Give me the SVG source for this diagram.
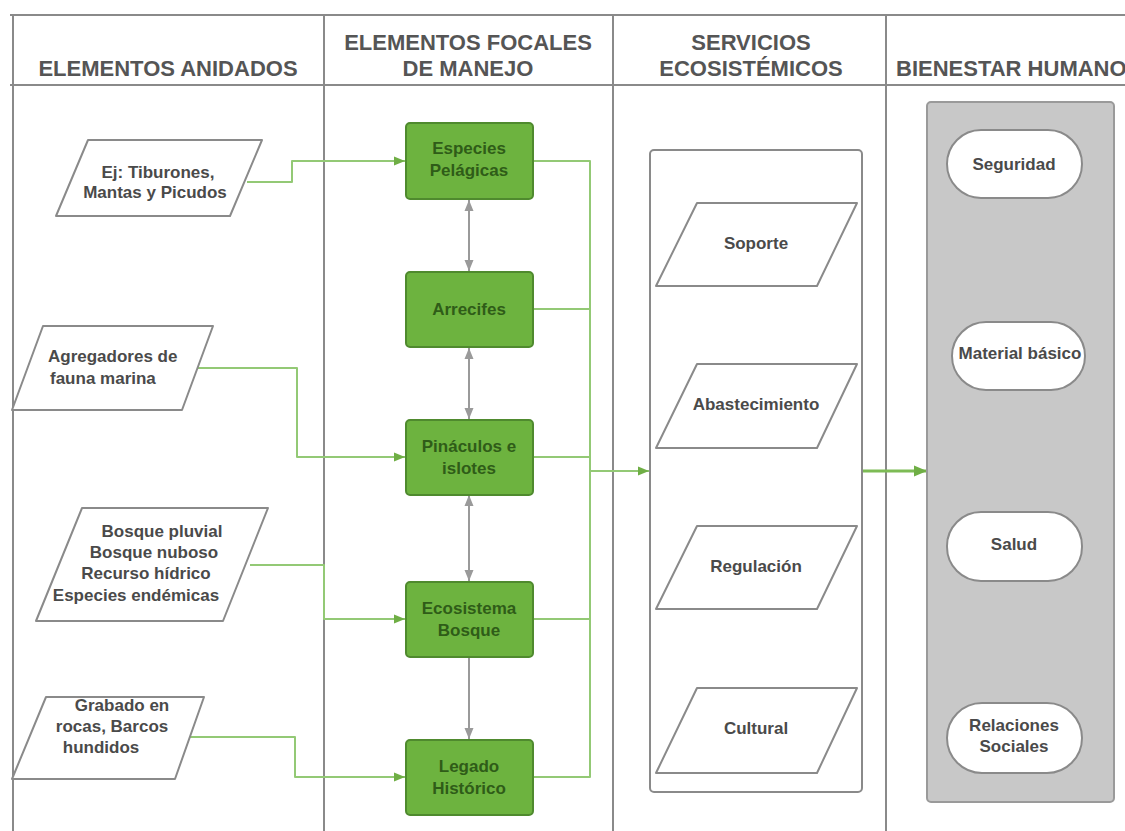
<svg xmlns="http://www.w3.org/2000/svg" width="1125" height="831" viewBox="0 0 1125 831">
<style>
text{font-family:"Liberation Sans",Arial,sans-serif;font-weight:bold;}
.hd{font-size:22px;fill:#555;text-anchor:middle;}
.grid{stroke:#8a8a8a;stroke-width:2;fill:none;}
.para{fill:#fff;stroke:#8a8a8a;stroke-width:2;stroke-linejoin:round;}
.lt{font-size:17px;fill:#4a4a4a;text-anchor:middle;}
.gbox{fill:#6db33f;stroke:#4f8a2e;stroke-width:2;}
.gt{font-size:17px;fill:#2f5c18;text-anchor:middle;}
.gl{stroke:#93c975;stroke-width:2;fill:none;stroke-linejoin:round;}
.gy{stroke:#9a9a9a;stroke-width:2;fill:none;}
.st{font-size:17px;fill:#4a4a4a;text-anchor:middle;}
.pill{fill:#fff;stroke:#8a8a8a;stroke-width:2;}
</style>
<defs>
<marker id="ga" markerUnits="userSpaceOnUse" markerWidth="12" markerHeight="10" refX="11" refY="5" orient="auto-start-reverse"><path d="M0,0.5 L11,5 L0,9.5 z" fill="#6fae45"/></marker>
<marker id="gb" markerUnits="userSpaceOnUse" markerWidth="14" markerHeight="12" refX="13" refY="6" orient="auto-start-reverse"><path d="M0,0.5 L13,6 L0,11.5 z" fill="#6fae45"/></marker>
<marker id="ya" markerUnits="userSpaceOnUse" markerWidth="12" markerHeight="12" refX="11" refY="5" orient="auto-start-reverse"><path d="M0,0.5 L11,5 L0,9.5 z" fill="#9a9a9a"/></marker>
</defs>
<rect width="1125" height="831" fill="#fff"/>
<g id="table">
<line class="grid" x1="10" y1="15" x2="1125" y2="15"/>
<line class="grid" x1="10" y1="85" x2="1125" y2="85"/>
<line class="grid" x1="13" y1="15" x2="13" y2="831"/>
<line class="grid" x1="324" y1="15" x2="324" y2="831"/>
<line class="grid" x1="613" y1="15" x2="613" y2="831"/>
<line class="grid" x1="886" y1="15" x2="886" y2="831"/>
<text class="hd" x="168" y="76">ELEMENTOS ANIDADOS</text>
<text class="hd" x="468" y="50">ELEMENTOS FOCALES</text>
<text class="hd" x="468" y="76">DE MANEJO</text>
<text class="hd" x="751" y="50">SERVICIOS</text>
<text class="hd" x="751" y="76">ECOSISTÉMICOS</text>
<text class="hd" x="896" y="76" style="text-anchor:start">BIENESTAR HUMANO</text>
</g>
<g id="connectors">
<path class="gl" d="M247,182 H292 V161 H405" marker-end="url(#ga)"/>
<path class="gl" d="M190,368 H297 V457 H405" marker-end="url(#ga)"/>
<path class="gl" d="M250,565 H324 V619 H405" marker-end="url(#ga)"/>
<path class="gl" d="M188,737 H295 V777 H405" marker-end="url(#ga)"/>
<path class="gl" d="M533,161 H590 V777 H533"/>
<path class="gl" d="M533,309 H590"/>
<path class="gl" d="M533,457 H590"/>
<path class="gl" d="M533,619 H590"/>
<path class="gl" d="M590,471 H649" marker-end="url(#ga)"/>
<path class="gl" d="M862,471 H927" style="stroke-width:3;stroke:#7dbb55" marker-end="url(#gb)"/>
<path class="gy" d="M469,200 V271" marker-start="url(#ya)" marker-end="url(#ya)"/>
<path class="gy" d="M469,348 V419" marker-start="url(#ya)" marker-end="url(#ya)"/>
<path class="gy" d="M469,495 V581" marker-start="url(#ya)" marker-end="url(#ya)"/>
<path class="gy" d="M469,657 V739" marker-end="url(#ya)"/>
</g>
<g id="n-tiburones">
<path class="para" d="M88,140 L262,140 L230,216 L56,216 Z"/>
<text class="lt" x="158" y="178">Ej: Tiburones,</text>
<text class="lt" x="155" y="198">Mantas y Picudos</text>
</g>
<g id="n-agregadores">
<path class="para" d="M43,326 L213,326 L182,410 L12,410 Z"/>
<text class="lt" x="48" y="362" style="text-anchor:start">Agregadores de</text>
<text class="lt" x="50" y="384" style="text-anchor:start">fauna marina</text>
</g>
<g id="n-bosque-list">
<path class="para" d="M82,508 L268,508 L223,621 L36,621 Z"/>
<text class="lt" x="162" y="537">Bosque pluvial</text>
<text class="lt" x="154" y="558">Bosque nuboso</text>
<text class="lt" x="146" y="579">Recurso hídrico</text>
<text class="lt" x="136" y="601">Especies endémicas</text>
</g>
<g id="n-grabado">
<path class="para" d="M46,697 L204,697 L175,779 L12,779 Z"/>
<text class="lt" x="122" y="711">Grabado en</text>
<text class="lt" x="112" y="732">rocas, Barcos</text>
<text class="lt" x="101" y="753">hundidos</text>
</g>
<g id="n-pelagicas">
<rect class="gbox" x="406" y="123" width="127" height="76" rx="4"/>
<text class="gt" x="469" y="154">Especies</text>
<text class="gt" x="469" y="176">Pelágicas</text>
</g>
<g id="n-arrecifes">
<rect class="gbox" x="406" y="272" width="127" height="75" rx="4"/>
<text class="gt" x="469" y="315">Arrecifes</text>
</g>
<g id="n-pinaculos">
<rect class="gbox" x="406" y="420" width="127" height="75" rx="4"/>
<text class="gt" x="469" y="452">Pináculos e</text>
<text class="gt" x="469" y="474">islotes</text>
</g>
<g id="n-ecosistema">
<rect class="gbox" x="406" y="582" width="127" height="75" rx="4"/>
<text class="gt" x="469" y="614">Ecosistema</text>
<text class="gt" x="469" y="636">Bosque</text>
</g>
<g id="n-legado">
<rect class="gbox" x="406" y="740" width="127" height="75" rx="4"/>
<text class="gt" x="469" y="772">Legado</text>
<text class="gt" x="469" y="794">Histórico</text>
</g>
<g id="n-servicios">
<rect x="650" y="150" width="212" height="642" rx="4" fill="#fff" stroke="#8a8a8a" stroke-width="2"/>
</g>
<g id="n-soporte">
<path class="para" d="M697,203 L857,203 L817,286 L656,286 Z"/>
<text class="st" x="756" y="249">Soporte</text>
</g>
<g id="n-abastecimiento">
<path class="para" d="M697,364 L857,364 L817,448 L656,448 Z"/>
<text class="st" x="756" y="410">Abastecimiento</text>
</g>
<g id="n-regulacion">
<path class="para" d="M697,526 L857,526 L817,609 L656,609 Z"/>
<text class="st" x="756" y="572">Regulación</text>
</g>
<g id="n-cultural">
<path class="para" d="M697,688 L857,688 L817,773 L656,773 Z"/>
<text class="st" x="756" y="734">Cultural</text>
</g>
<g id="n-bienestar">
<rect x="927" y="102" width="187" height="700" rx="4" fill="#c8c8c8" stroke="#9a9a9a" stroke-width="2"/>
</g>
<g id="n-seguridad">
<rect class="pill" x="947" y="130" width="135" height="68" rx="34"/>
<text class="st" x="1014" y="170">Seguridad</text>
</g>
<g id="n-material">
<rect class="pill" x="952" y="322" width="133" height="68" rx="34"/>
<text class="st" x="1020" y="359">Material básico</text>
</g>
<g id="n-salud">
<rect class="pill" x="947" y="512" width="135" height="69" rx="34"/>
<text class="st" x="1014" y="550">Salud</text>
</g>
<g id="n-relaciones">
<rect class="pill" x="947" y="703" width="135" height="70" rx="35"/>
<text class="st" x="1014" y="731">Relaciones</text>
<text class="st" x="1014" y="752">Sociales</text>
</g>
</svg>
